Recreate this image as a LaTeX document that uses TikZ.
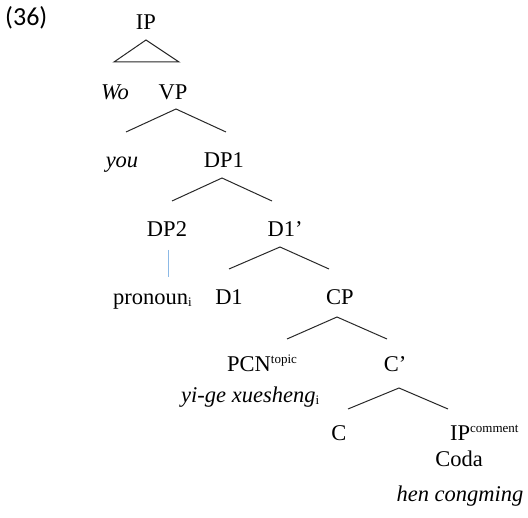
\documentclass[tikz,border=0pt]{standalone}
\usepackage{fontspec}
\setmainfont{Liberation Serif}
\newfontfamily\numfont{Carlito}
\definecolor{linegray}{RGB}{40,40,40}
\definecolor{paleblue}{RGB}{140,185,230}
\newcommand{\supx}[1]{\raisebox{8.5pt}{\fontsize{13}{13}\selectfont #1}}
\newcommand{\subx}[1]{\raisebox{-2pt}{\fontsize{13}{13}\selectfont #1}}
\begin{document}
\begin{tikzpicture}[x=1pt,y=-1pt,
  lab/.style={anchor=base,inner sep=0pt,font=\fontsize{22.5}{27}\selectfont},
  br/.style={draw=linegray,line width=1pt}]
\useasboundingbox (0,0) rectangle (528,518);
\node[anchor=base west,inner sep=0pt,font=\numfont\fontsize{26}{30}\selectfont] (num) at (5,26) {(36)};
% labels
\node[lab] (ip) at (146,30) {IP};
\node[lab] (wo) at (115,100) {\itshape Wo};
\node[lab] (vp) at (173,100) {VP};
\node[lab] (you) at (122,168) {\itshape you};
\node[lab] (dp1) at (224,168) {DP1};
\node[lab] (dp2) at (167,237) {DP2};
\node[lab] (d1bar) at (285,237) {D1’};
\node[lab,anchor=base west] (pron) at (113,305) {pronoun\subx{i}};
\node[lab] (d1) at (229,305) {D1};
\node[lab] (cp) at (340,305) {CP};
\node[lab,anchor=base west] (pcn) at (227,372) {PCN\supx{topic}};
\node[lab] (cbar) at (395,372) {C’};
\node[lab,anchor=base west] (yige) at (181,403) {\itshape yi-ge xuesheng\subx{\upshape i}};
\node[lab] (c) at (339,441) {C};
\node[lab,anchor=base west] (ipc) at (450,441) {IP\supx{comment}};
\node[lab] (coda) at (459,467) {Coda};
\node[lab] (hen) at (460,502) {\itshape hen congming};
% branch points
\coordinate (t0) at (146,40);  \coordinate (tl) at (114,62);  \coordinate (tr) at (179,62);
\coordinate (v0) at (176,109); \coordinate (vl) at (126,132); \coordinate (vr) at (226,132);
\coordinate (a0) at (222,178); \coordinate (al) at (172,201); \coordinate (ar) at (272,201);
\coordinate (b0) at (280,247); \coordinate (bl) at (229,269); \coordinate (bbr) at (329,269);
\coordinate (c0) at (337,317); \coordinate (cl) at (287,339); \coordinate (ccr) at (387,339);
\coordinate (d0) at (399,388); \coordinate (dl) at (348,409); \coordinate (dr) at (448,409);
\coordinate (p0) at (168,250); \coordinate (p1) at (168,277);
% branches
\draw[br,line join=miter] (t0) -- (tl) -- (tr) -- cycle;
\draw[br] (vl) -- (v0) -- (vr);
\draw[br] (al) -- (a0) -- (ar);
\draw[br] (bl) -- (b0) -- (bbr);
\draw[br] (cl) -- (c0) -- (ccr);
\draw[br] (dl) -- (d0) -- (dr);
\draw[draw=paleblue,line width=0.9pt] (p0) -- (p1);
\end{tikzpicture}
\end{document}
